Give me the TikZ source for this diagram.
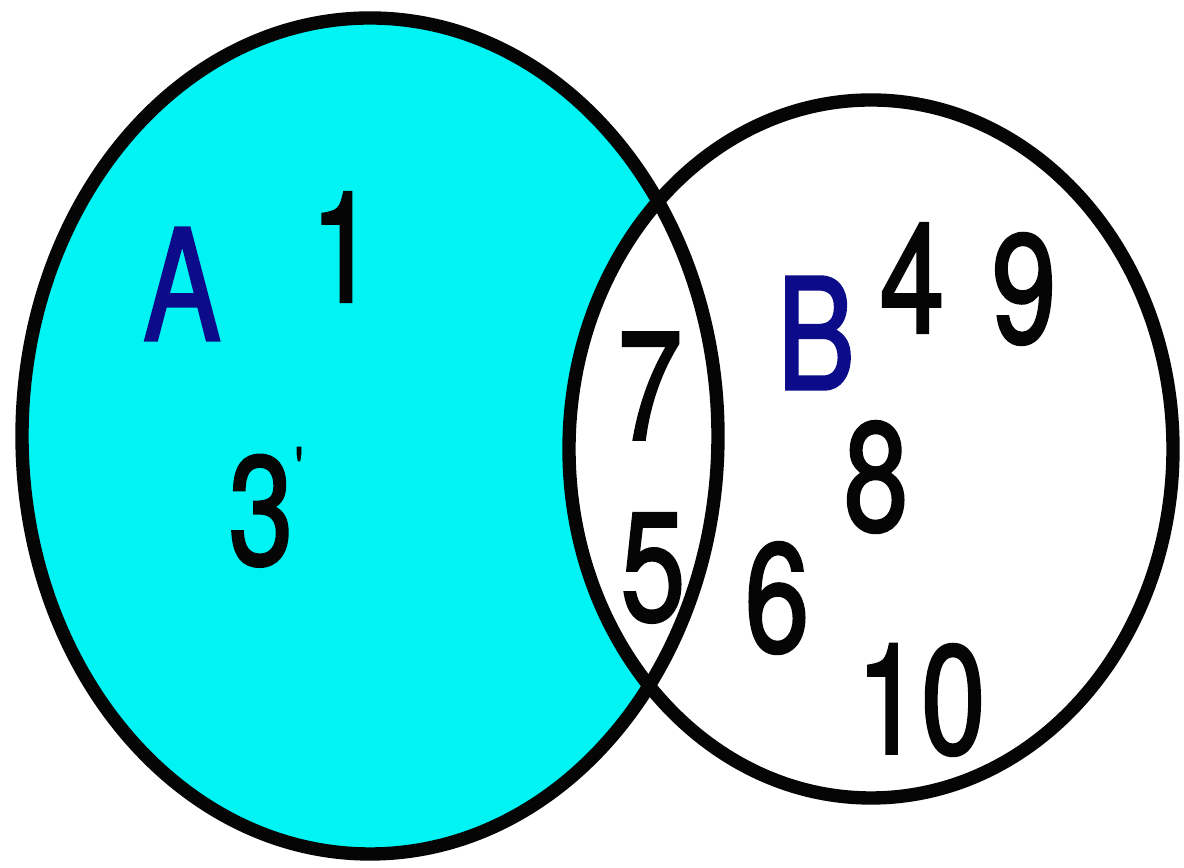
\documentclass[tikz,border=0pt]{standalone}
\usepackage{fontspec}
\usepackage{xcolor}
\newfontfamily\vennfont[FakeStretch=0.75,FakeBold=1.6]{TeX Gyre Heros}
\definecolor{SetCyan}{HTML}{00F4F4}
\definecolor{SetNavy}{HTML}{0C0C8A}
\definecolor{SetInk}{HTML}{050505}

\begin{document}
\begin{tikzpicture}[
    x=0.01cm, y=-0.01cm,
    outline/.style={draw=SetInk, line width=3.8pt},
    member/.style={inner sep=0pt, text=SetInk,
                 font=\vennfont\fontsize{44}{44}\selectfont},
    setname/.style={member, text=SetNavy}
]
\useasboundingbox[fill=white] (0,0) rectangle (1184,868);

\fill[SetCyan] (370,436) ellipse [x radius=348, y radius=418];
\fill[white] (871,449) ellipse [x radius=302, y radius=349];
\draw[outline] (370,436) ellipse [x radius=348, y radius=418];
\draw[outline] (871,449) ellipse [x radius=302, y radius=349];

\node[setname] (nameA) at (182,284) {A};
\node[setname] (nameB) at (816,333) {B};

\node[member] (one) at (343,247) {1};
\node[member] (three) at (261,507) {3\rlap{\kern0.5pt\fontsize{16}{16}\selectfont\raisebox{22pt}{'}}};
\node[member] (seven) at (650,386) {7};
\node[member] (five) at (653,568) {5};
\node[member] (four) at (912,278) {4};
\node[member] (nine) at (1024,289) {9};
\node[member] (eight) at (876,477) {8};
\node[member] (six) at (777,598) {6};
\node[member] (ten) at (921,700) {10};
\end{tikzpicture}
\end{document}
